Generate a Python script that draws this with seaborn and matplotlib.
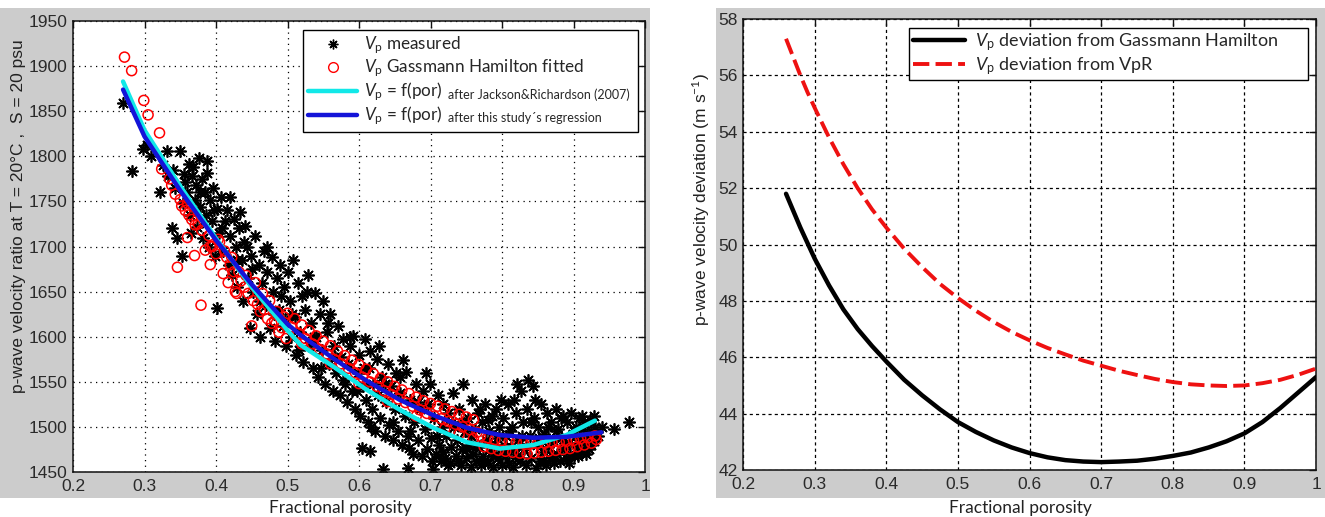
import matplotlib
matplotlib.use("Agg")
import numpy as np
import pandas as pd
import seaborn as sns
import matplotlib.pyplot as plt
from matplotlib.patches import Rectangle
from matplotlib.lines import Line2D

# ---------------- data ----------------
meas_x = [0.270, 0.282, 0.298, 0.303, 0.309, 0.321, 0.326, 0.331, 0.333,
          0.338, 0.340, 0.343, 0.346, 0.349, 0.352, 0.354, 0.357, 0.360, 0.362, 0.364, 0.366, 0.368, 0.370,
          0.372, 0.374, 0.376, 0.378, 0.380, 0.382, 0.384, 0.386, 0.388, 0.390, 0.392, 0.394, 0.396, 0.398,
          0.401, 0.402, 0.404,
          0.407, 0.410, 0.412, 0.415, 0.418, 0.420, 0.423, 0.425, 0.428, 0.430, 0.432, 0.434, 0.436, 0.438,
          0.441, 0.443, 0.445, 0.447, 0.449, 0.452, 0.455, 0.457, 0.460, 0.462, 0.465, 0.467, 0.470, 0.472,
          0.475, 0.478, 0.480, 0.483, 0.485, 0.488, 0.490, 0.493, 0.495, 0.498, 0.500,
          0.503, 0.505, 0.508, 0.510, 0.512, 0.515, 0.518, 0.520, 0.522, 0.525, 0.528, 0.530, 0.533, 0.535,
          0.538, 0.540, 0.543, 0.545, 0.548, 0.550, 0.553, 0.555, 0.558, 0.560, 0.563, 0.565, 0.568, 0.570,
          0.573, 0.575, 0.578, 0.580, 0.583, 0.585, 0.588, 0.590, 0.592, 0.595, 0.598,
          0.600, 0.602, 0.604, 0.605, 0.608, 0.610, 0.612, 0.614, 0.616, 0.616, 0.618, 0.620, 0.623, 0.625,
          0.627, 0.630, 0.632, 0.634, 0.636, 0.638, 0.640, 0.642, 0.645, 0.647, 0.650, 0.652, 0.655, 0.657,
          0.660, 0.662, 0.664, 0.666, 0.668, 0.669, 0.670, 0.672, 0.675, 0.677, 0.680, 0.682, 0.685, 0.688,
          0.690, 0.692, 0.695, 0.697, 0.699, 0.700, 0.703,
          0.705, 0.707, 0.710, 0.712, 0.714, 0.716, 0.718, 0.720, 0.722, 0.725, 0.727, 0.729, 0.731, 0.733,
          0.735, 0.737, 0.740, 0.742, 0.744, 0.746, 0.748, 0.750, 0.752, 0.754, 0.756, 0.758, 0.760, 0.762,
          0.764, 0.766, 0.768, 0.770, 0.772, 0.774, 0.776, 0.778, 0.780, 0.782, 0.784, 0.786, 0.788, 0.790,
          0.792, 0.794, 0.796, 0.798, 0.800,
          0.802, 0.804, 0.806, 0.808, 0.810, 0.812, 0.814, 0.816, 0.818, 0.820, 0.821, 0.823, 0.825, 0.827,
          0.829, 0.831, 0.833, 0.835, 0.837, 0.839, 0.841, 0.843, 0.845, 0.847, 0.849, 0.851, 0.853, 0.855,
          0.857, 0.859, 0.861, 0.863, 0.865, 0.867, 0.869, 0.871, 0.873, 0.875, 0.877, 0.879, 0.881, 0.883,
          0.885, 0.887, 0.889, 0.891, 0.893, 0.895, 0.897, 0.899, 0.901, 0.903, 0.905, 0.907, 0.909, 0.911,
          0.913, 0.915, 0.917, 0.919, 0.921, 0.923, 0.925, 0.928, 0.930, 0.934, 0.940, 0.956, 0.977,
          0.702, 0.709, 0.717, 0.724, 0.730, 0.738, 0.745, 0.751, 0.757, 0.763, 0.769, 0.775, 0.781, 0.787,
          0.793, 0.799, 0.805, 0.811, 0.817, 0.822, 0.828, 0.834, 0.840, 0.846, 0.852, 0.858, 0.864, 0.870,
          0.876, 0.882, 0.888, 0.894, 0.900, 0.906, 0.912, 0.918, 0.924, 0.929,
          0.506, 0.516, 0.527, 0.537, 0.547, 0.557, 0.567, 0.577, 0.587, 0.597, 0.607, 0.617, 0.628, 0.637,
          0.648, 0.658, 0.671, 0.683, 0.694,
          0.355, 0.365, 0.377, 0.387, 0.397, 0.409, 0.419, 0.429, 0.439, 0.451, 0.461, 0.471, 0.481, 0.491,
          0.497]
meas_y = [1859, 1784, 1808, 1813, 1800, 1760, 1790, 1806, 1778,
          1720, 1785, 1765, 1709, 1806, 1689, 1748, 1772, 1760, 1792, 1735, 1778, 1788, 1752,
          1768, 1722, 1798, 1744, 1775, 1710, 1760, 1735, 1782, 1700, 1752, 1728, 1765, 1690,
          1632, 1742, 1715,
          1755, 1695, 1728, 1740, 1680, 1712, 1668, 1730, 1700, 1655, 1720, 1738, 1685, 1640,
          1723, 1700, 1665, 1610, 1690, 1650, 1712, 1625, 1680, 1600, 1660, 1695, 1635, 1672,
          1610, 1688, 1650, 1595, 1665, 1630, 1680, 1612, 1655, 1590, 1672,
          1640, 1600, 1685, 1622, 1580, 1660, 1605, 1645, 1572, 1630, 1668, 1590, 1615, 1565,
          1648, 1600, 1555, 1625, 1585, 1640, 1548, 1605, 1570, 1625, 1540, 1590, 1560, 1612,
          1535, 1578, 1598, 1548, 1528, 1570, 1590, 1540, 1601, 1520, 1560,
          1580, 1512, 1477, 1545, 1598, 1530, 1505, 1565, 1473, 1584, 1520, 1548, 1495, 1575,
          1535, 1510, 1555, 1453, 1490, 1528, 1570, 1502, 1545, 1485, 1520, 1560, 1495, 1538,
          1480, 1574, 1512, 1561, 1490, 1455, 1477, 1530, 1470, 1505, 1548, 1485, 1520, 1468,
          1540, 1498, 1475, 1525, 1548, 1488, 1453,
          1510, 1470, 1535, 1480, 1462, 1500, 1525, 1466, 1490, 1515, 1460, 1478, 1538, 1500,
          1468, 1485, 1520, 1458, 1475, 1548, 1495, 1465, 1510, 1480, 1456, 1530, 1470, 1498,
          1462, 1515, 1478, 1458, 1505, 1468, 1525, 1485, 1460, 1495, 1472, 1512, 1456, 1480,
          1520, 1465, 1500, 1475, 1458,
          1510, 1468, 1490, 1525, 1460, 1478, 1500, 1456, 1470, 1515, 1548, 1485, 1462, 1540,
          1505, 1475, 1458, 1520, 1552, 1490, 1466, 1545, 1510, 1455, 1480, 1500, 1462, 1525,
          1472, 1492, 1458, 1515, 1478, 1465, 1505, 1485, 1460, 1520, 1470, 1498, 1462, 1488,
          1512, 1475, 1466, 1505, 1482, 1470, 1515, 1492, 1468, 1500, 1478, 1510, 1486, 1472,
          1498, 1505, 1480, 1490, 1475, 1508, 1495, 1484, 1500, 1490, 1500, 1498, 1506,
          1462, 1490, 1472, 1458, 1505, 1462, 1505, 1475, 1490, 1478, 1520, 1462, 1508, 1468,
          1488, 1530, 1478, 1495, 1530, 1465, 1490, 1478, 1505, 1530, 1488, 1462, 1500, 1468,
          1495, 1510, 1482, 1460, 1495, 1468, 1512, 1470, 1480, 1512,
          1625, 1585, 1650, 1600, 1565, 1615, 1578, 1552, 1600, 1540, 1565, 1500, 1590, 1548,
          1505, 1555, 1495, 1528, 1560,
          1780, 1715, 1760, 1795, 1740, 1720, 1755, 1685, 1705, 1675, 1640, 1700, 1625, 1645,
          1620]

gh_x = [0.272, 0.282, 0.299, 0.305, 0.321, 0.324, 0.338, 0.346, 0.350, 0.357, 0.362, 0.371, 0.379,
        0.385, 0.390, 0.395, 0.400, 0.405, 0.410, 0.415, 0.420, 0.425, 0.429, 0.435, 0.440, 0.445,
        0.450, 0.452, 0.458, 0.462, 0.468, 0.472, 0.478, 0.482, 0.488, 0.492, 0.498,
        0.335, 0.343, 0.352, 0.360, 0.366, 0.375, 0.380, 0.392, 0.403, 0.412, 0.422, 0.432, 0.442,
        0.455, 0.465, 0.475, 0.485, 0.495, 0.360, 0.370, 0.392, 0.417, 0.427,
        0.50, 0.51, 0.52, 0.53, 0.54, 0.55, 0.56, 0.57, 0.58, 0.59, 0.60, 0.61, 0.62, 0.63, 0.64,
        0.65, 0.66, 0.67, 0.68, 0.69, 0.70, 0.71, 0.72, 0.73, 0.74, 0.75, 0.76,
        0.505, 0.515, 0.525, 0.535, 0.545, 0.555, 0.565, 0.575, 0.585, 0.595, 0.605, 0.615, 0.625,
        0.635, 0.645, 0.655, 0.665, 0.675, 0.685, 0.695, 0.705, 0.715, 0.725, 0.735, 0.745, 0.755, 0.765,
        0.52, 0.56, 0.60, 0.64, 0.68, 0.72, 0.74, 0.76,
        0.77, 0.78, 0.79, 0.80, 0.81, 0.82, 0.83, 0.84, 0.85, 0.86, 0.87, 0.88, 0.89, 0.90, 0.91,
        0.92, 0.93,
        0.775, 0.785, 0.795, 0.805, 0.815, 0.825, 0.835, 0.845, 0.855, 0.865, 0.875, 0.885, 0.895,
        0.905, 0.915, 0.925, 0.932]
gh_y = [1910, 1895, 1862, 1846, 1826, 1786, 1768, 1677, 1752, 1740, 1735, 1724, 1635,
        1696, 1712, 1700, 1692, 1705, 1670, 1688, 1680, 1672, 1648, 1662, 1655, 1648,
        1612, 1640, 1636, 1628, 1630, 1620, 1615, 1618, 1605, 1610, 1598,
        1775, 1758, 1745, 1748, 1730, 1725, 1718, 1700, 1708, 1695, 1688, 1672, 1668,
        1660, 1648, 1640, 1628, 1622, 1710, 1690, 1680, 1660, 1650,
        1626, 1620, 1613, 1607, 1601, 1595, 1590, 1584, 1579, 1574, 1569, 1564, 1559, 1554, 1550,
        1545, 1541, 1537, 1533, 1529, 1526, 1523, 1520, 1517, 1514, 1511, 1508,
        1611, 1604, 1598, 1592, 1586, 1581, 1575, 1570, 1565, 1560, 1555, 1550, 1545,
        1540, 1536, 1531, 1527, 1523, 1519, 1515, 1512, 1509, 1506, 1503, 1500, 1497, 1494,
        1592, 1570, 1548, 1528, 1512, 1498, 1492, 1487,
        1490, 1488, 1486, 1485, 1484, 1483, 1482, 1482, 1482, 1482, 1483, 1483, 1484, 1485, 1487,
        1488, 1490,
        1478, 1476, 1474, 1473, 1472, 1471, 1470, 1471, 1472, 1473, 1474, 1475, 1476,
        1478, 1480, 1482, 1486]

jr_x = [0.270, 0.300, 0.350, 0.400, 0.450, 0.500, 0.518, 0.564, 0.611, 0.657, 0.704, 0.751, 0.797,
        0.844, 0.890, 0.930]
jr_y = [1883, 1829, 1767, 1709, 1655, 1607, 1591, 1567, 1541, 1519, 1499, 1483, 1476,
        1480, 1491, 1507]

reg_x = [0.270, 0.300, 0.350, 0.400, 0.450, 0.500, 0.518, 0.564, 0.611, 0.657, 0.704, 0.751, 0.797,
         0.844, 0.890, 0.939]
reg_y = [1874, 1822, 1762, 1707, 1658, 1614, 1602, 1576, 1551, 1530, 1513, 1499, 1491,
         1488, 1489, 1494]

dev_x = [0.26, 0.27, 0.28, 0.29, 0.30, 0.32, 0.34, 0.36, 0.38, 0.40, 0.425, 0.45, 0.475, 0.50,
         0.525, 0.55, 0.575, 0.60, 0.625, 0.65, 0.675, 0.70, 0.725, 0.75, 0.775, 0.80, 0.825,
         0.85, 0.875, 0.90, 0.925, 0.95, 0.975, 1.00]
dev_gh = [51.8, 51.2, 50.6, 50.05, 49.5, 48.55, 47.7, 47.0, 46.4, 45.85, 45.2, 44.65, 44.15, 43.7,
          43.35, 43.05, 42.8, 42.6, 42.45, 42.35, 42.3, 42.28, 42.3, 42.33, 42.4, 42.5, 42.62,
          42.8, 43.02, 43.3, 43.7, 44.2, 44.75, 45.3]
dev_vpr = [57.3, 56.65, 56.0, 55.4, 54.85, 53.8, 52.85, 52.0, 51.25, 50.6, 49.85, 49.2, 48.6, 48.1,
           47.65, 47.25, 46.9, 46.6, 46.33, 46.1, 45.88, 45.7, 45.52, 45.37, 45.23, 45.12, 45.04,
           45.0, 44.98, 45.0, 45.08, 45.2, 45.38, 45.6]

x_ticks = [0.2, 0.3, 0.4, 0.5, 0.6, 0.7, 0.8, 0.9, 1.0]
x_tick_labels = ["0.2", "0.3", "0.4", "0.5", "0.6", "0.7", "0.8", "0.9", "1"]
y1_ticks = [1450, 1500, 1550, 1600, 1650, 1700, 1750, 1800, 1850, 1900, 1950]
y2_ticks = [42, 44, 46, 48, 50, 52, 54, 56, 58]

# ---------------- style ----------------
sns.set_theme(style="white")
plt.rcParams["font.family"] = ["Liberation Sans", "DejaVu Sans"]
plt.rcParams["mathtext.fontset"] = "custom"
plt.rcParams["mathtext.rm"] = "Lato"
plt.rcParams["mathtext.it"] = "Lato:italic"
plt.rcParams["mathtext.bf"] = "Lato:bold"

GRAY = "#cccccc"
TICKC = "#2a2a2a"
LEGFONT = "Lato"

fig = plt.figure(figsize=(13.25, 5.17), dpi=100)
fig.patch.set_facecolor("white")
fig.patches.append(Rectangle((0.0, 0.0368), 0.4906, 0.948, transform=fig.transFigure,
                             facecolor=GRAY, edgecolor="none", zorder=-10))
fig.patches.append(Rectangle((0.5404, 0.0368), 0.4596, 0.948, transform=fig.transFigure,
                             facecolor=GRAY, edgecolor="none", zorder=-10))

ax1 = fig.add_axes([0.0551, 0.0870, 0.4317, 0.8723])
ax2 = fig.add_axes([0.5608, 0.0909, 0.4325, 0.8723])


def style_axes(ax, yticks, ylim, dash):
    ax.set_facecolor("white")
    ax.set_xlim(0.2, 1.0)
    ax.set_ylim(*ylim)
    ax.set_xticks(x_ticks)
    ax.set_xticklabels(x_tick_labels)
    ax.set_yticks(yticks)
    ax.grid(True, color="black", linestyle=dash, linewidth=0.9)
    ax.set_axisbelow(True)
    for s in ax.spines.values():
        s.set_visible(True)
        s.set_color("#111111")
        s.set_linewidth(1.1)
    ax.tick_params(direction="in", length=5, width=1, top=True, right=True,
                   labelsize=12.5, labelcolor=TICKC, color="#111111")
    ax.tick_params(axis="x", pad=5)
    ax.tick_params(axis="y", pad=4)
    ax.set_xlabel("")
    ax.set_ylabel("")


# ---------------- left panel ----------------
sns.scatterplot(x=meas_x, y=meas_y, ax=ax1, marker=(8, 2, 0), color="black",
                s=66, linewidth=1.25, legend=False, zorder=2)
sns.scatterplot(x=gh_x, y=gh_y, ax=ax1, marker="o", color="red", facecolor="none",
                edgecolor="red", s=52, linewidth=1.1, legend=False, zorder=3)
sns.lineplot(x=jr_x, y=jr_y, ax=ax1, color="#11e8e8", linewidth=3.2, sort=False,
             estimator=None, legend=False, zorder=4)
sns.lineplot(x=reg_x, y=reg_y, ax=ax1, color="#1414d8", linewidth=3.2, sort=False,
             estimator=None, legend=False, zorder=5)
style_axes(ax1, y1_ticks, (1450, 1950), (0, (1, 3.5)))

h1 = [Line2D([], [], linestyle="none", marker=(8, 2, 0), color="black", markersize=7, markeredgewidth=1.0),
      Line2D([], [], linestyle="none", marker="o", markerfacecolor="none", markeredgecolor="red",
             markersize=7, markeredgewidth=1.0),
      Line2D([], [], color="#11e8e8", linewidth=3.2),
      Line2D([], [], color="#1414d8", linewidth=3.2)]
l1 = [r"$\mathit{V}_\mathrm{p}$ measured",
      r"$\mathit{V}_\mathrm{p}$ Gassmann Hamilton fitted",
      r"$\mathit{V}_\mathrm{p}$ = f(por)",
      r"$\mathit{V}_\mathrm{p}$ = f(por)"]
leg1 = ax1.legend(h1, l1, loc="upper left", bbox_to_anchor=(0.402, 0.763, 0.586, 0.217),
                  mode="expand", borderaxespad=0, fancybox=False, framealpha=1,
                  edgecolor="black", prop={"family": LEGFONT, "size": 12.3},
                  labelspacing=0.08, borderpad=0.28, handlelength=2.9, handletextpad=0.4)
leg1.get_frame().set_linewidth(1.0)
leg1.set_zorder(10)

# ---------------- right panel ----------------
sns.lineplot(x=dev_x, y=dev_gh, ax=ax2, color="black", linewidth=3.2, sort=False,
             estimator=None, legend=False, zorder=3)
sns.lineplot(x=dev_x, y=dev_vpr, ax=ax2, color="#ee1111", linewidth=2.8, sort=False,
             estimator=None, legend=False, zorder=3)
ax2.lines[-1].set_dashes([4.2, 1.6])
style_axes(ax2, y2_ticks, (42, 58), (0, (2.5, 2.5)))

h2 = [Line2D([], [], color="black", linewidth=3.2),
      Line2D([], [], color="#ee1111", linewidth=2.8, dashes=[4.2, 1.6])]
l2 = [r"$\mathit{V}_\mathrm{p}$ deviation from Gassmann Hamilton",
      r"$\mathit{V}_\mathrm{p}$ deviation from VpR"]
leg2 = ax2.legend(h2, l2, loc="upper left", bbox_to_anchor=(0.290, 0.867, 0.696, 0.113),
                  mode="expand", borderaxespad=0, fancybox=False, framealpha=1,
                  edgecolor="black", prop={"family": LEGFONT, "size": 13},
                  labelspacing=0.1, borderpad=0.2, handlelength=2.9, handletextpad=0.55)
leg2.get_frame().set_linewidth(1.0)

# ---------------- axis labels ----------------
fig.text(0.0136, 0.582, "p-wave velocity ratio at T = 20\u00b0C ,  S = 20 psu", rotation=90,
         ha="center", va="center", fontsize=12.5, color="#222222")
fig.text(0.529, 0.615, r"p-wave velocity deviation (m s$^{-1}$)", rotation=90,
         ha="center", va="center", fontsize=12.5, color="#222222")
fig.text(0.2566, 0.0174, "Fractional porosity", ha="center", va="center",
         family=LEGFONT, fontsize=12.5, color="#222222")
fig.text(0.7698, 0.0174, "Fractional porosity", ha="center", va="center",
         family=LEGFONT, fontsize=12.5, color="#222222")

# small annotations following the last two legend entries
fig.canvas.draw()
renderer = fig.canvas.get_renderer()
inv = ax1.transAxes.inverted()
small = ["after Jackson&Richardson (2007)", "after this study\u00b4s regression"]
for txt, s in zip(leg1.get_texts()[2:], small):
    bb = txt.get_window_extent(renderer)
    x0, _ = inv.transform((bb.x1 + 5, 0))
    _, yc = inv.transform((0, bb.y0 + 0.40 * bb.height))
    ax1.text(x0, yc, s, transform=ax1.transAxes, family=LEGFONT, fontsize=9,
             va="center", ha="left", zorder=11)

fig.savefig("out.png", dpi=100, facecolor="white")
